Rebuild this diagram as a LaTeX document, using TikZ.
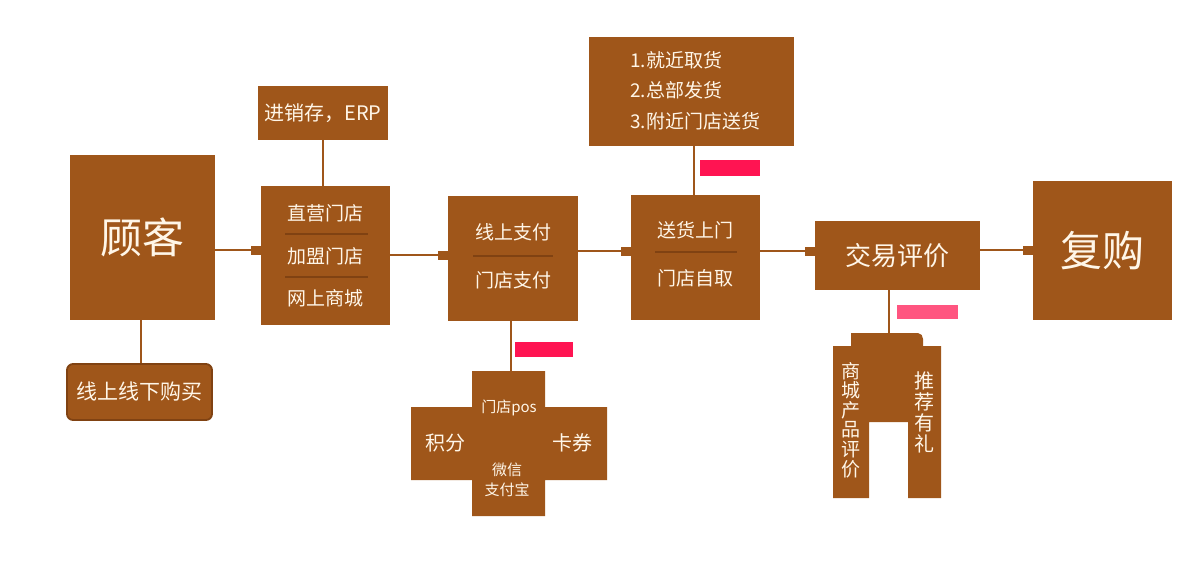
\documentclass[tikz,border=0pt]{standalone}
\usepackage{fontspec}
\setmainfont{Noto Sans CJK SC}
\usetikzlibrary{arrows.meta}
\definecolor{zong}{RGB}{159,86,26}
\definecolor{zongdark}{RGB}{128,66,18}
\definecolor{cream}{RGB}{255,246,232}
\definecolor{hong}{RGB}{255,20,82}
\definecolor{hongqian}{RGB}{255,85,128}

\begin{document}
\begin{tikzpicture}[x=0.5pt,y=-0.5pt,
    box/.style={fill=zong,text=cream,inner sep=0pt},
    txt/.style={text=cream,inner sep=0pt},
    link/.style={draw=zong,line width=1.2pt,-{Square[length=5pt,width=4.5pt]}},
    stem/.style={draw=zong,line width=1.2pt},
    sep/.style={draw=zongdark,line width=0.8pt}]
    \useasboundingbox (0,0) rectangle (1200,570);
    % main boxes
    \node[box,minimum width=72.5pt,minimum height=82.5pt,font=\fontsize{21}{24}\selectfont] (guke) at (142.5,237.5) {顾客};
    \node[box,draw=zongdark,line width=0.9pt,rounded corners=3pt,minimum width=72.5pt,minimum height=28pt,font=\fontsize{10.5}{12}\selectfont] (goumai) at (139.5,392) {线上线下购买};
    \node[box,minimum width=65pt,minimum height=27pt,font=\fontsize{10}{12}\selectfont] (erp) at (323,113) {进销存，ERP};
    \node[box,minimum width=64.5pt,minimum height=69.5pt] (mendian) at (325.5,255.5) {};
    \node[box,minimum width=65pt,minimum height=62.5pt] (zhifu) at (513,258.5) {};
    \node[box,minimum width=64.5pt,minimum height=62.5pt] (songhuo) at (695.5,257.5) {};
    \node[box,minimum width=102.5pt,minimum height=54.5pt] (quhuo) at (691.5,91.5) {};
    \node[box,minimum width=82.5pt,minimum height=34.5pt,font=\fontsize{13}{15}\selectfont] (pingjia) at (897.5,255.5) {交易评价};
    \node[box,minimum width=69.5pt,minimum height=69.5pt,font=\fontsize{21}{24}\selectfont] (fugou) at (1102.5,250.5) {复购};

    % texts inside the boxes
    \node[txt,font=\fontsize{9.5}{11}\selectfont] (m1) at (325,213) {直营门店};
    \node[txt,font=\fontsize{9.5}{11}\selectfont] (m2) at (325,256) {加盟门店};
    \node[txt,font=\fontsize{9.5}{11}\selectfont] (m3) at (325,298) {网上商城};
    \draw[sep] (285,234) -- (368,234);
    \draw[sep] (285,277) -- (368,277);
    \node[txt,font=\fontsize{9.5}{11}\selectfont] (z1) at (513,232) {线上支付};
    \node[txt,font=\fontsize{9.5}{11}\selectfont] (z2) at (513,280) {门店支付};
    \draw[sep] (473,256) -- (553,256);
    \node[txt,font=\fontsize{9.5}{11}\selectfont] (s1) at (695,230) {送货上门};
    \node[txt,font=\fontsize{9.5}{11}\selectfont] (s2) at (695,278) {门店自取};
    \draw[sep] (655,252) -- (737,252);
    \node[txt,anchor=west,font=\fontsize{9.5}{11}\selectfont] (q1) at (630,60) {1.就近取货};
    \node[txt,anchor=west,font=\fontsize{9.5}{11}\selectfont] (q2) at (630,90) {2.总部发货};
    \node[txt,anchor=west,font=\fontsize{9.5}{11}\selectfont] (q3) at (630,121) {3.附近门店送货};

    % cross of payment ways
    \fill[zong] (472,371) -- (545,371) -- (545,407) -- (607,407) -- (607,480) -- (545,480)
        -- (545,516) -- (472,516) -- (472,480) -- (411,480) -- (411,407) -- (472,407) -- cycle;
    \coordinate (kouding) at (511,371);
    \node[txt,font=\fontsize{7.5}{9}\selectfont] (pos) at (509,408) {门店pos};
    \node[txt,font=\fontsize{10}{12}\selectfont] (jifen) at (445,443) {积分};
    \node[txt,font=\fontsize{10}{12}\selectfont] (kaquan) at (572,443) {卡券};
    \node[txt,align=center,font=\fontsize{7.5}{10}\selectfont] (weixin) at (507,480) {微信\\支付宝};

    % trousers of reviews
    \fill[zong] (833,346) -- (851,346) -- (851,333) -- (918,333) to[out=0,in=90] (923,339)
        -- (923,346) -- (941,346) -- (941,498) -- (908,498) -- (908,422) -- (869,422)
        -- (869,498) -- (833,498) -- cycle;
    \coordinate (yaotou) at (889,333);
    \node[txt,align=center,font=\fontsize{9.5}{9.8}\selectfont] (shangcheng) at (851,420) {商\\城\\产\\品\\评\\价};
    \node[txt,align=center,font=\fontsize{10}{10.5}\selectfont] (tuijian) at (924,412) {推\\荐\\有\\礼};

    % pink marks
    \fill[hong] (700,160) rectangle (760,176);
    \fill[hong] (515,342) rectangle (573,357);
    \fill[hongqian] (897,305) rectangle (958,319);

    % connectors
    \draw[link] (guke.east |- 0,250) -- (mendian.west |- 0,250);
    \draw[link] (mendian.east |- 0,255) -- (zhifu.west |- 0,255);
    \draw[link] (zhifu.east |- 0,251) -- (songhuo.west |- 0,251);
    \draw[link] (songhuo.east |- 0,251) -- (pingjia.west |- 0,251);
    \draw[link] (pingjia.east |- 0,250) -- (fugou.west |- 0,250);
    \draw[stem] (guke.south -| 141,0) -- (goumai.north -| 141,0);
    \draw[stem] (erp.south) -- (erp.south |- mendian.north);
    \draw[stem] (quhuo.south -| 694,0) -- (songhuo.north -| 694,0);
    \draw[stem] (zhifu.south -| kouding) -- (kouding);
    \draw[stem] (pingjia.south -| yaotou) -- (yaotou);
\end{tikzpicture}
\end{document}
